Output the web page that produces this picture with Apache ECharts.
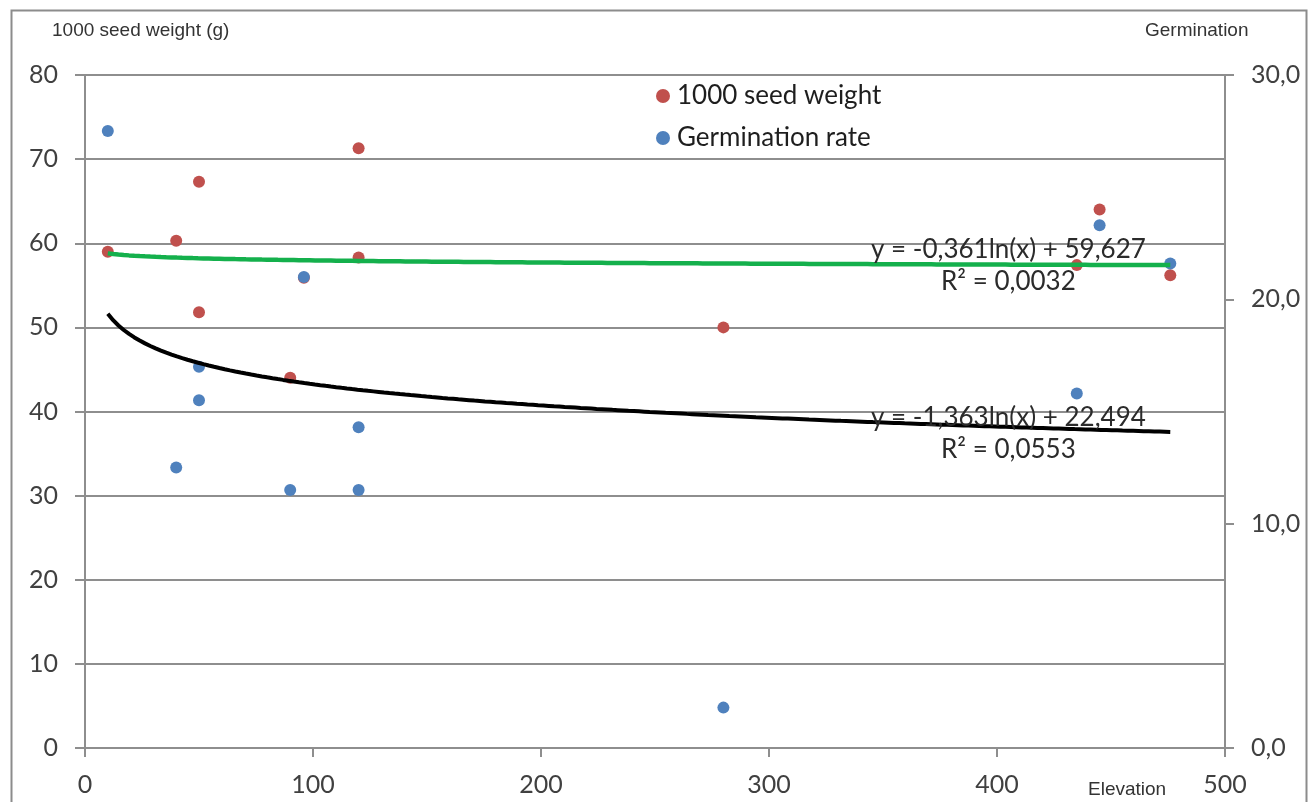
<!DOCTYPE html>
<html>
<head>
<meta charset="utf-8">
<script src="https://cdn.jsdelivr.net/npm/echarts@6/dist/echarts.min.js"></script>
<style>
html,body{margin:0;padding:0;background:#fff;}
#chart{width:1308px;height:802px;}
</style>
</head>
<body>
<div id="chart"></div>
<script>
// ---- data ----
const elevation = [10, 40, 50, 50, 90, 96, 120, 120, 280, 435, 445, 476];
const seedWeight = [59.0, 60.3, 67.3, 51.8, 44.0, 55.9, 71.3, 58.3, 50.0, 57.4, 64.0, 56.2];
const germElevation = [10, 40, 50, 50, 90, 96, 120, 120, 280, 435, 445, 476];
const germinationRate = [27.5, 12.5, 17.0, 15.5, 11.5, 21.0, 14.3, 11.5, 1.8, 15.8, 23.3, 21.6];
// logarithmic trendline coefficients y = a*ln(x) + b (as printed on the chart)
const weightTrendCoef = [-0.361, 59.627];
const germTrendCoef = [-1.363, 22.494];
const weightTrendText = ['y = -0,361ln(x) + 59,627', 'R\u00B2 = 0,0032'];
const germTrendText = ['y = -1,363ln(x) + 22,494', 'R\u00B2 = 0,0553'];
const seriesNames = ['1000 seed weight', 'Germination rate'];
const leftTicks = [0, 80, 10];
const rightTicks = [0, 30, 10];
const xTicks = [0, 500, 100];
const labelAtX = 405;

// ---- build ----
function trendCurve(xs, coef) {
  const lo = Math.min.apply(null, xs), hi = Math.max.apply(null, xs);
  const n = 200, out = [];
  for (let i = 0; i <= n; i++) {
    const x = lo + (hi - lo) * i / n;
    out.push([x, coef[0] * Math.log(x) + coef[1]]);
  }
  return out;
}
const trendAt = (coef, x) => coef[0] * Math.log(x) + coef[1];

const axisGray = '#8e8e8e';
const labelColor = '#404040';
const FONT = 'Lato';

function trendMarks(coef, texts, offs) {
  const y = trendAt(coef, labelAtX);
  return {
    symbol: 'circle', symbolSize: 0, silent: true, animation: false,
    data: texts.map((t, i) => ({
      coord: [labelAtX, y],
      label: {
        show: true, position: 'inside', formatter: t, offset: [0, offs[i]],
        fontFamily: FONT, fontSize: 26, color: '#2b2b2b'
      }
    }))
  };
}

const chart = echarts.init(document.getElementById('chart'), null, {renderer: 'canvas'});
chart.setOption({
  animation: false,
  backgroundColor: '#ffffff',
  grid: {left: 85, right: 83, top: 75, bottom: 54, containLabel: false, outerBoundsMode: 'none'},
  legend: {
    data: seriesNames,
    orient: 'vertical', left: 656, top: 82, padding: 0, itemGap: 14,
    itemWidth: 18, itemHeight: 14, icon: 'circle',
    textStyle: {fontFamily: FONT, fontSize: 26, lineHeight: 28, color: '#1e1e1e'}
  },
  xAxis: {
    type: 'value', min: xTicks[0], max: xTicks[1], interval: xTicks[2],
    axisLine: {show: true, onZero: false, lineStyle: {color: axisGray, width: 2}},
    axisTick: {show: true, length: 9, lineStyle: {color: axisGray, width: 2}},
    splitLine: {show: false},
    axisLabel: {fontFamily: FONT, fontSize: 25, color: labelColor, margin: 24, lineHeight: 25}
  },
  yAxis: [{
    type: 'value', min: leftTicks[0], max: leftTicks[1], interval: leftTicks[2],
    axisLine: {show: true, lineStyle: {color: axisGray, width: 2}},
    axisTick: {show: true, length: 10, lineStyle: {color: axisGray, width: 2}},
    splitLine: {show: true, lineStyle: {color: axisGray, width: 2}},
    axisLabel: {fontFamily: FONT, fontSize: 25, color: labelColor, margin: 27}
  }, {
    type: 'value', position: 'right', min: rightTicks[0], max: rightTicks[1], interval: rightTicks[2],
    axisLine: {show: true, lineStyle: {color: axisGray, width: 2}},
    axisTick: {show: true, length: 9, lineStyle: {color: axisGray, width: 2}},
    splitLine: {show: false},
    axisLabel: {fontFamily: FONT, fontSize: 25, color: labelColor, margin: 26,
      formatter: v => v.toFixed(1).replace('.', ',')}
  }],
  series: [{
    name: seriesNames[0], type: 'scatter', yAxisIndex: 0, symbolSize: 12,
    itemStyle: {color: '#C0504D', opacity: 1},
    data: elevation.map((x, i) => [x, seedWeight[i]])
  }, {
    name: seriesNames[1], type: 'scatter', yAxisIndex: 1, symbolSize: 12,
    itemStyle: {color: '#4F81BD', opacity: 1},
    data: germElevation.map((x, i) => [x, germinationRate[i]])
  }, {
    name: 'weightTrend', type: 'line', yAxisIndex: 0, showSymbol: false, symbol: 'none',
    lineStyle: {color: '#14B04C', width: 4.5}, silent: true, z: 3,
    data: trendCurve(elevation, weightTrendCoef),
    markPoint: trendMarks(weightTrendCoef, weightTrendText, [-15, 17])
  }, {
    name: 'germTrend', type: 'line', yAxisIndex: 1, showSymbol: false, symbol: 'none',
    lineStyle: {color: '#000000', width: 4}, silent: true, z: 3,
    data: trendCurve(germElevation, germTrendCoef),
    markPoint: trendMarks(germTrendCoef, germTrendText, [-9, 23])
  }],
  graphic: [{
    type: 'rect', left: 9, top: 8, silent: true,
    shape: {width: 1295, height: 810},
    style: {fill: 'none', stroke: '#8c8c8c', lineWidth: 2}
  }, {
    type: 'text', left: 52, top: 21,
    style: {text: '1000 seed weight (g)', font: '19px "Liberation Sans", Arial, sans-serif', fill: '#333'}
  }, {
    type: 'text', left: 1145, top: 21,
    style: {text: 'Germination', font: '19px "Liberation Sans", Arial, sans-serif', fill: '#333'}
  }, {
    type: 'text', left: 1088, top: 780,
    style: {text: 'Elevation', font: '19px "Liberation Sans", Arial, sans-serif', fill: '#333'}
  }]
});
</script>
</body>
</html>
